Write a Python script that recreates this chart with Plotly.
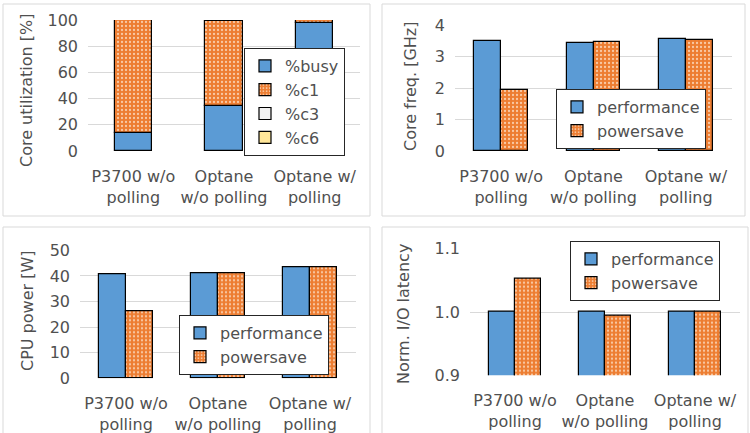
import plotly.graph_objects as go

W, H = 750, 433

categories = ["P3700 w/o<br>polling", "Optane<br>w/o polling", "Optane w/<br>polling"]

# Panel 1: core utilization [%]
util_busy = [13.5, 34, 98]
util_c1 = [86.5, 65.5, 2]
util_c3 = [0, 0, 0]
util_c6 = [0, 0, 0]

# Panel 2: core frequency [GHz]
freq_perf = [3.5, 3.43, 3.56]
freq_save = [1.95, 3.47, 3.52]

# Panel 3: CPU power [W]
power_perf = [40.5, 41, 43.5]
power_save = [26, 41, 43.5]

# Panel 4: normalized I/O latency
lat_perf = [1.0, 1.0, 1.0]
lat_save = [1.052, 0.994, 1.0]

BLUE = "#5B9BD5"
ORANGE = "#ED7D31"
C3 = "#F2F2F2"
C6 = "#FFE699"
GRID = "#D9D9D9"
TXT = "#505050"
FONT = "DejaVu Sans, Liberation Sans, Arial, sans-serif"
FS = 16

def px_x(p):
    return p / W

def px_y(p):
    return 1 - p / H

dots = dict(shape=".", fgcolor="#F9C9A5", bgcolor=ORANGE, size=4, solidity=0.25)
outline = dict(color="black", width=1.2)

fig = go.Figure()

# ---- panel 1 (stacked) ----
base_c1 = list(util_busy)
base_c3 = [a + b for a, b in zip(util_busy, util_c1)]
base_c6 = [a + b for a, b in zip(base_c3, util_c3)]
w1, o1 = 0.41, -0.205
fig.add_trace(go.Bar(x=categories, y=util_busy, name="%busy", width=w1, offset=o1,
                     marker=dict(color=BLUE, line=outline), xaxis="x", yaxis="y",
                     legend="legend", cliponaxis=False))
fig.add_trace(go.Bar(x=categories, y=util_c1, base=base_c1, name="%c1", width=w1, offset=o1,
                     marker=dict(color=ORANGE, line=outline, pattern=dots), xaxis="x", yaxis="y",
                     legend="legend", cliponaxis=False))
fig.add_trace(go.Bar(x=categories, y=util_c3, base=base_c3, name="%c3", width=w1, offset=o1,
                     marker=dict(color=C3, line=outline), xaxis="x", yaxis="y",
                     legend="legend", cliponaxis=False))
fig.add_trace(go.Bar(x=categories, y=util_c6, base=base_c6, name="%c6", width=w1, offset=o1,
                     marker=dict(color=C6, line=outline), xaxis="x", yaxis="y",
                     legend="legend", cliponaxis=False))

# ---- grouped panels ----
wg = 0.29
def add_pair(perf, save, xa, ya, leg, clip=True):
    fig.add_trace(go.Bar(x=categories, y=perf, name="performance", width=wg, offset=-wg,
                         marker=dict(color=BLUE, line=outline), xaxis=xa, yaxis=ya,
                         legend=leg, cliponaxis=clip))
    fig.add_trace(go.Bar(x=categories, y=save, name="powersave", width=wg, offset=0,
                         marker=dict(color=ORANGE, line=outline, pattern=dots), xaxis=xa, yaxis=ya,
                         legend=leg, cliponaxis=clip))

add_pair(freq_perf, freq_save, "x2", "y2", "legend2", False)
add_pair(power_perf, power_save, "x3", "y3", "legend3", False)
add_pair(lat_perf, lat_save, "x4", "y4", "legend4", True)

def xaxis(dom, anchor):
    return dict(domain=dom, anchor=anchor, type="category", showgrid=False, showline=False,
                zeroline=False, ticks="", tickfont=dict(size=FS, color=TXT, family=FONT),
                ticklabelstandoff=14, automargin=False, fixedrange=True)

def yaxis(dom, anchor, rng, dtick, fmt=None):
    d = dict(domain=dom, anchor=anchor, range=rng, dtick=dtick, tick0=rng[0], showgrid=True,
             gridcolor=GRID, gridwidth=1, zeroline=False, showline=False, ticks="",
             tickfont=dict(size=FS, color=TXT, family=FONT), ticklabelstandoff=9,
             automargin=False, fixedrange=True)
    if fmt:
        d["tickformat"] = fmt
    return d

leg_common = dict(bgcolor="white", bordercolor="#262626", borderwidth=1,
                  font=dict(size=FS, color=TXT, family=FONT), itemwidth=30,
                  traceorder="normal", xanchor="left", yanchor="top",
                  tracegroupgap=0)

def panel_rect(x0, y0, x1, y1):
    return dict(type="rect", xref="paper", yref="paper", x0=px_x(x0), x1=px_x(x1),
                y0=px_y(y1), y1=px_y(y0), line=dict(color=GRID, width=1),
                fillcolor="rgba(0,0,0,0)", layer="below")

def ytitle(text, cx, cy):
    return dict(text=text, xref="paper", yref="paper", x=px_x(cx), y=px_y(cy),
                showarrow=False, textangle=-90, xanchor="center", yanchor="middle",
                font=dict(size=FS, color=TXT, family=FONT))

fig.update_layout(
    width=W, height=H, margin=dict(l=0, r=0, t=0, b=0),
    template="none", paper_bgcolor="white", plot_bgcolor="rgba(0,0,0,0)",
    barmode="overlay", bargap=0,
    font=dict(family=FONT, size=FS, color=TXT),
    xaxis=xaxis([px_x(88), px_x(360)], "y"),
    yaxis=yaxis([px_y(151), px_y(20)], "x", [0, 100], 20),
    xaxis2=xaxis([px_x(455), px_x(732)], "y2"),
    yaxis2=yaxis([px_y(151), px_y(25)], "x2", [0, 4], 1),
    xaxis3=xaxis([px_x(80), px_x(356)], "y3"),
    yaxis3=yaxis([px_y(378.3), px_y(250.3)], "x3", [0, 50], 10),
    xaxis4=xaxis([px_x(470), px_x(740)], "y4"),
    yaxis4=yaxis([px_y(375.3), px_y(248.7)], "x4", [0.9, 1.1], 0.1, ".1f"),
    legend=dict(x=px_x(244), y=px_y(48), **leg_common),
    legend2=dict(x=px_x(556), y=px_y(89), **leg_common),
    legend3=dict(x=px_x(179), y=px_y(315), **leg_common),
    legend4=dict(x=px_x(570), y=px_y(241), **leg_common),
    shapes=[panel_rect(3, 4, 370, 216), panel_rect(382, 4, 745, 216),
            panel_rect(3, 227, 370, 440), panel_rect(382, 227, 748, 440)],
    annotations=[ytitle("Core utilization [%]", 27, 90),
                 ytitle("Core freq. [GHz]", 411, 87),
                 ytitle("CPU power [W]", 27, 311),
                 ytitle("Norm. I/O latency", 403, 314)],
    showlegend=True,
)

fig.write_html("out.html")
